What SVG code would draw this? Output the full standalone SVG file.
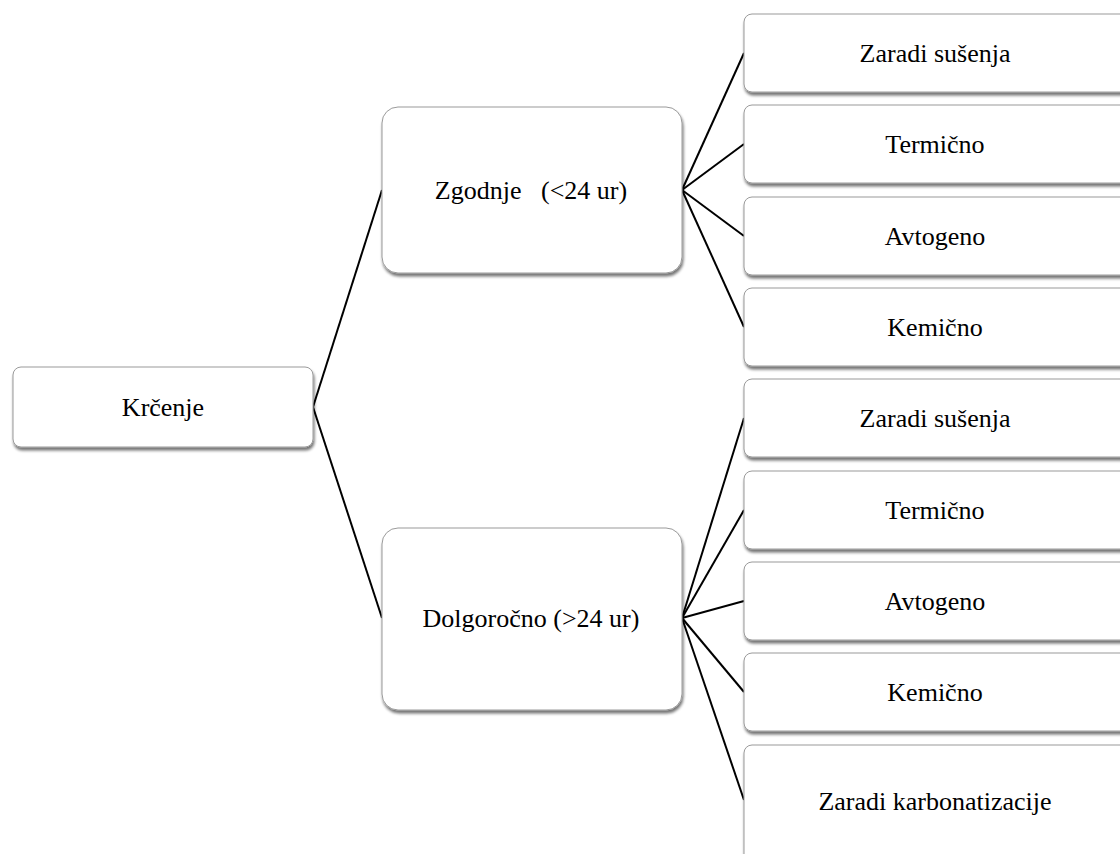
<svg xmlns="http://www.w3.org/2000/svg" width="1120" height="854" viewBox="0 0 1120 854">
<defs>
<filter id="sh" x="-10%" y="-10%" width="130%" height="140%">
<feGaussianBlur in="SourceAlpha" stdDeviation="1.5"/>
<feOffset dx="1" dy="3" result="o"/>
<feComponentTransfer><feFuncA type="linear" slope="0.55"/></feComponentTransfer>
<feMerge><feMergeNode/><feMergeNode in="SourceGraphic"/></feMerge>
</filter>
</defs>
<style>
.box{fill:#fff;stroke:#9a9a9a;stroke-width:1;filter:url(#sh)}
.t{font-family:'Liberation Serif','DejaVu Serif',serif;font-size:26px;fill:#000;text-anchor:middle;white-space:pre}
.c{stroke:#000;stroke-width:2;fill:none}
</style>
<rect width="1120" height="854" fill="#fff"/>
<g id="connectors">
<line class="c" x1="313" y1="407" x2="382" y2="190"/>
<line class="c" x1="313" y1="407" x2="382" y2="618"/>
<line class="c" x1="682" y1="190" x2="744" y2="53"/>
<line class="c" x1="682" y1="190" x2="744" y2="144"/>
<line class="c" x1="682" y1="190" x2="744" y2="236"/>
<line class="c" x1="682" y1="190" x2="744" y2="327"/>
<line class="c" x1="682" y1="618" x2="744" y2="418"/>
<line class="c" x1="682" y1="618" x2="744" y2="510"/>
<line class="c" x1="682" y1="618" x2="744" y2="601"/>
<line class="c" x1="682" y1="618" x2="744" y2="692"/>
<line class="c" x1="682" y1="618" x2="744" y2="800"/>
</g>
<g id="krcenje"><rect class="box" x="13" y="367" width="300" height="80" rx="8"/><text class="t" font-family="Liberation Serif, serif" x="163" y="416">Krčenje</text></g>
<g id="zgodnje"><rect class="box" x="382" y="107" width="300" height="166" rx="16"/><text class="t" x="531" y="199">Zgodnje   (&lt;24 ur)</text></g>
<g id="dolgorocno"><rect class="box" x="382" y="528" width="300" height="182" rx="16"/><text class="t" x="531" y="627">Dolgoročno (&gt;24 ur)</text></g>
<g id="z1"><rect class="box" x="744" y="14" width="400" height="78" rx="8"/><text class="t" x="935" y="62">Zaradi sušenja</text></g>
<g id="z2"><rect class="box" x="744" y="105" width="400" height="78" rx="8"/><text class="t" x="935" y="153">Termično</text></g>
<g id="z3"><rect class="box" x="744" y="197" width="400" height="78" rx="8"/><text class="t" x="935" y="245">Avtogeno</text></g>
<g id="z4"><rect class="box" x="744" y="288" width="400" height="78" rx="8"/><text class="t" x="935" y="336">Kemično</text></g>
<g id="d1"><rect class="box" x="744" y="379" width="400" height="78" rx="8"/><text class="t" x="935" y="427">Zaradi sušenja</text></g>
<g id="d2"><rect class="box" x="744" y="471" width="400" height="78" rx="8"/><text class="t" x="935" y="519">Termično</text></g>
<g id="d3"><rect class="box" x="744" y="562" width="400" height="78" rx="8"/><text class="t" x="935" y="610">Avtogeno</text></g>
<g id="d4"><rect class="box" x="744" y="653" width="400" height="78" rx="8"/><text class="t" x="935" y="701">Kemično</text></g>
<g id="d5"><rect class="box" x="744" y="745" width="400" height="120" rx="8"/><text class="t" x="935" y="810">Zaradi karbonatizacije</text></g>
</svg>
